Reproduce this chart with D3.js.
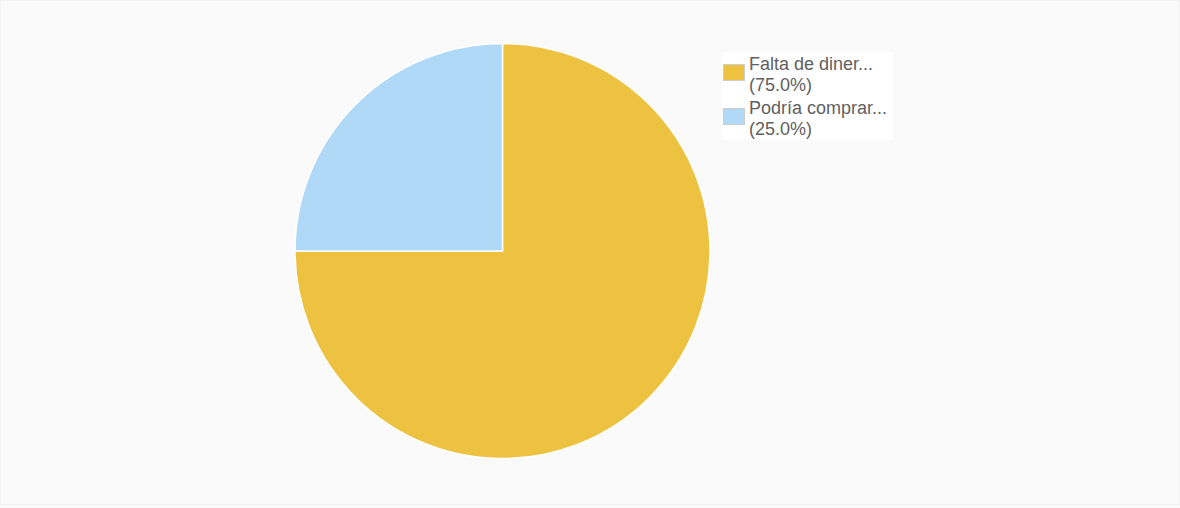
<!DOCTYPE html>
<html>
<head>
<meta charset="utf-8">
<script src="https://cdn.jsdelivr.net/npm/d3@7"></script>
<style>
  html, body { margin: 0; padding: 0; background: #fafafa; }
  svg { display: block; }
</style>
</head>
<body>
<svg id="chart" width="1180" height="508"></svg>
<script>
// Reasons and their shares
const categories = ["Falta de diner...", "Podría comprar..."];
const shares = [75.0, 25.0];
const sliceColors = ["#ecc240", "#b0d8f7"];

const width = 1180, height = 508;
const svg = d3.select("#chart");

svg.append("rect")
  .attr("x", 0.5).attr("y", 0.5)
  .attr("width", width - 1).attr("height", height - 4)
  .attr("fill", "#fafafa")
  .attr("stroke", "#f3f3f3");

const cx = 502.5, cy = 251, radius = 207.5;

const pie = d3.pie().sort(null).value(d => d)(shares);
const arc = d3.arc().innerRadius(0).outerRadius(radius);
const color = d3.scaleOrdinal().domain(categories).range(sliceColors);

svg.append("g")
  .attr("transform", `translate(${cx},${cy})`)
  .selectAll("path")
  .data(pie)
  .join("path")
  .attr("d", arc)
  .attr("fill", (d, i) => color(categories[i]))
  .attr("stroke", "#ffffff")
  .attr("stroke-width", 1.5);

// Legend
const legend = svg.append("g").attr("transform", "translate(722,52)");
legend.append("rect")
  .attr("width", 171).attr("height", 88)
  .attr("fill", "#ffffff");

const items = legend.selectAll("g.item")
  .data(categories)
  .join("g")
  .attr("class", "item")
  .attr("transform", (d, i) => `translate(0,${i * 44})`);

items.append("rect")
  .attr("x", 1.5).attr("y", 12.5)
  .attr("width", 21).attr("height", 16)
  .attr("fill", d => color(d))
  .attr("stroke", "#cccccc")
  .attr("stroke-width", 1);

const label = items.append("text")
  .attr("font-family", "Liberation Sans, Arial, sans-serif")
  .attr("font-size", 18)
  .attr("fill", "#606060");
label.append("tspan").attr("x", 27).attr("y", 17.5).text(d => d);
label.append("tspan").attr("x", 27).attr("y", 38.5)
  .text((d, i) => `(${shares[i].toFixed(1)}%)`);
</script>
</body>
</html>
